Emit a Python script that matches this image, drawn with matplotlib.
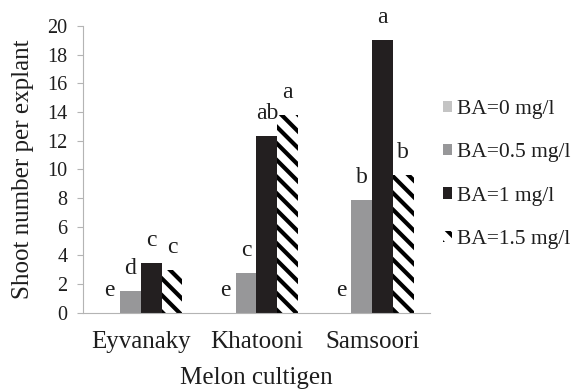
import numpy as np
import matplotlib
matplotlib.use("Agg")
import matplotlib.pyplot as plt

plt.rcParams['font.family'] = 'serif'
plt.rcParams['font.serif'] = ['Liberation Serif', 'Times New Roman', 'DejaVu Serif']
plt.rcParams['hatch.linewidth'] = 3.0

# shoot number per explant for each cultigen and BA level
cultigens = ['Eyvanaky', 'Khatooni', 'Samsoori']
ba_labels = ['BA=0 mg/l', 'BA=0.5 mg/l', 'BA=1 mg/l', 'BA=1.5 mg/l']
ba_0 = [0.0, 0.0, 0.0]
ba_05 = [1.5, 2.75, 7.85]
ba_1 = [3.5, 12.3, 19.0]
ba_15 = [3.0, 13.8, 9.6]
letters_0 = ['e', 'e', 'e']
letters_05 = ['d', 'c', 'b']
letters_1 = ['c', 'ab', 'a']
letters_15 = ['c', 'a', 'b']

txt = '#1e1e1e'
axis_gray = '#b4b4b4'

fig = plt.figure(figsize=(5.71, 3.92), dpi=100)
ax = fig.add_axes([83 / 571, 1 - 312.7 / 392, 347 / 571, 286.7 / 392])

x = np.arange(len(cultigens))
w = 0.179
series = [ba_0, ba_05, ba_1, ba_15]
letters = [letters_0, letters_05, letters_1, letters_15]
styles = [
    dict(color='#c4c4c4'),
    dict(color='#979799'),
    dict(color='#231f20'),
    dict(facecolor='white', edgecolor='black', hatch='\\\\', linewidth=0),
]

for i, (vals, labs, st) in enumerate(zip(series, letters, styles)):
    pos = x + (i - 1.5) * w
    ax.bar(pos, vals, w, label=ba_labels[i], **st)
    for px, v, lab in zip(pos, vals, labs):
        ax.annotate(lab, (px, v), xytext=(0, 12.2), textcoords='offset points',
                    ha='center', va='baseline', fontsize=17, color=txt)

ax.set_xlim(-0.5, 2.5)
ax.set_ylim(0, 20)
ax.set_yticks(np.arange(0, 21, 2))
ax.set_xticks(x)
ax.set_xticklabels(cultigens)

for s in ['top', 'right']:
    ax.spines[s].set_visible(False)
ax.spines['left'].set_color(axis_gray)
ax.spines['bottom'].set_color(axis_gray)

ax.tick_params(axis='y', length=4, color=axis_gray, pad=7, labelsize=14.5, labelcolor=txt)
ax.tick_params(axis='x', length=0, pad=13.3, labelsize=18, labelcolor=txt)

ax.set_ylabel('Shoot number per explant', fontsize=18, color=txt)
ax.yaxis.set_label_coords(-0.141, 0.5)
ax.set_xlabel('Melon cultigen', fontsize=18, color=txt)
ax.xaxis.set_label_coords(0.5, -0.189)

fig.legend(loc='upper left', bbox_to_anchor=(443 / 571, 1 - 100 / 392),
           frameon=False, fontsize=15.5, handlelength=0.42, handleheight=0.42,
           handletextpad=0.23, labelspacing=1.13, borderpad=0, borderaxespad=0,
           labelcolor=txt)

fig.savefig('out.png', dpi=100)
